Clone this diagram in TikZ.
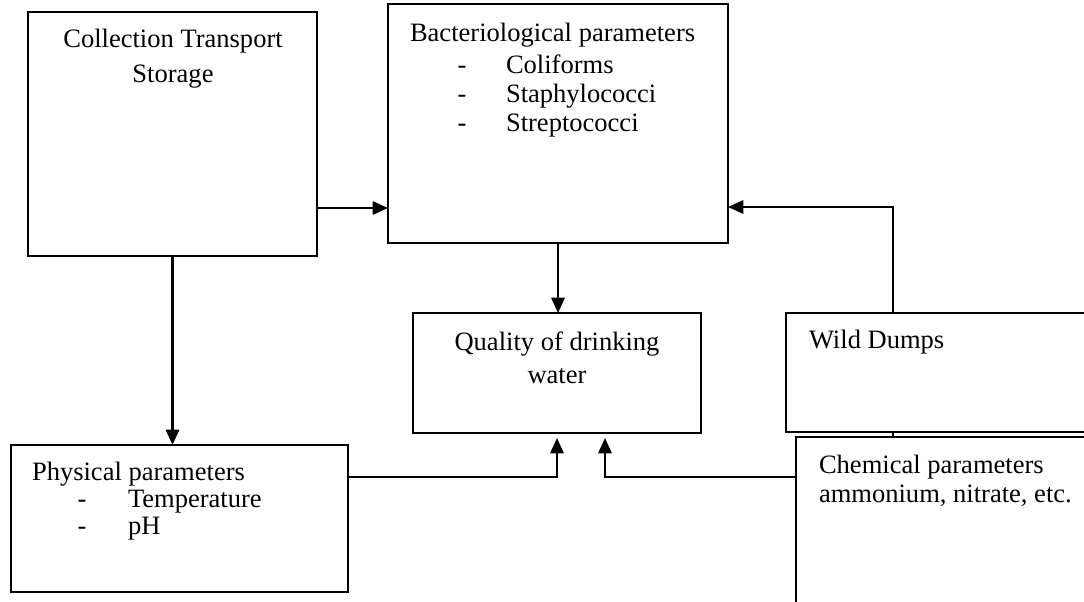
\documentclass[tikz,border=0pt]{standalone}
\usepackage{fontspec}
\setmainfont{Liberation Serif}
\usetikzlibrary{arrows.meta}
\tikzset{
  box/.style={draw, line width=1.7pt, inner sep=0pt, outer sep=0pt, fill=white},
  txt/.style={inner sep=0pt, outer sep=0pt, font=\fontsize{19.9pt}{24pt}\selectfont},
  arr/.style={line width=1.7pt, -{Triangle[length=11.5pt,width=10pt]}},
  con/.style={line width=1.7pt},
}
\begin{document}
\begin{tikzpicture}[x=0.75pt,y=-0.75pt]
\clip (0,0) rectangle (1084,602);
\fill[white] (0,0) rectangle (1084,602);
% boxes
\node[box, minimum width=216.75pt, minimum height=183pt] (coll) at (172.5,134) {};
\node[box, minimum width=255pt, minimum height=179.25pt] (bact) at (558,123.5) {};
\node[box, minimum width=216pt, minimum height=90pt] (qual) at (557,373) {};
\node[box, minimum width=228pt, minimum height=89.25pt] (wild) at (938,372.5) {};
\node[box, minimum width=220.5pt, minimum height=131.25pt] (chem) at (943,524.5) {};
\node[box, minimum width=252.75pt, minimum height=110.25pt] (phys) at (179.5,518.5) {};
% helper coordinates
\coordinate (ya) at (0,208);
\coordinate (yb) at (0,207);
\coordinate (yc) at (0,477);
\coordinate (wx) at (893,0);
\coordinate (rx) at (605,0);
% texts
\node[txt, anchor=base] (t1) at (173,48) {Collection Transport};
\node[txt, anchor=base] (t2) at (173,83) {Storage};
\node[txt, anchor=base west] (b0) at (410,42) {Bacteriological parameters};
\node[txt, anchor=base] (b1d) at (462,74) {-};
\node[txt, anchor=base west] (b1) at (506,74) {Coliforms};
\node[txt, anchor=base] (b2d) at (462,103) {-};
\node[txt, anchor=base west] (b2) at (506,103) {Staphylococci};
\node[txt, anchor=base] (b3d) at (462,132) {-};
\node[txt, anchor=base west] (b3) at (506,132) {Streptococci};
\node[txt, anchor=base] (q1) at (557,350) {Quality of drinking};
\node[txt, anchor=base] (q2) at (557,383) {water};
\node[txt, anchor=base west] (w1) at (809,348) {Wild Dumps};
\node[txt, anchor=base west] (c1) at (819,473) {Chemical parameters};
\node[txt, anchor=base west] (c2) at (819,502) {ammonium, nitrate, etc.};
\node[txt, anchor=base west] (p0) at (32,480) {Physical parameters};
\node[txt, anchor=base] (p1d) at (82,507) {-};
\node[txt, anchor=base west] (p1) at (128,507) {Temperature};
\node[txt, anchor=base] (p2d) at (82,534) {-};
\node[txt, anchor=base west] (p2) at (128,534) {pH};
% connectors
\draw[arr] (coll.east |- ya) -- (bact.west |- ya);
\draw[arr] (wild.north -| wx) |- (bact.east |- yb);
\draw[con] (wild.south -| wx) -- (chem.north -| wx);
\draw[arr] (bact.south) -- (bact.south |- qual.north);
\draw[arr] (coll.south) -- (coll.south |- phys.north);
\draw[arr, shorten >=3.75pt] (phys.east |- yc) -| (qual.south);
\draw[arr, shorten >=3.75pt] (chem.west |- yc) -| (qual.south -| rx);
\end{tikzpicture}
\end{document}
